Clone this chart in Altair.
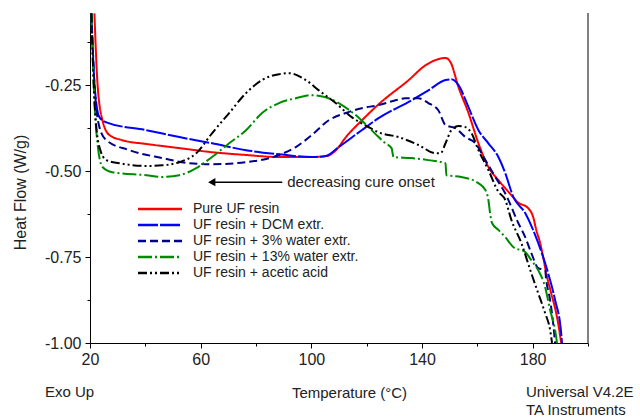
import altair as alt
import pandas as pd

series_names = ["Pure UF resin", "UF resin + DCM extr.", "UF resin + 3% water extr.",
                "UF resin + 13% water extr.", "UF resin + acetic acid"]
series_colors = ["#ff0000", "#0000ff", "#00008b", "#008a00", "#000000"]
series_dash = [[1, 0], [20, 2], [8, 4], [14, 3, 2, 3], [9, 3, 2, 3, 2, 3]]

red_x = [21.6, 22.7, 24.5, 27.0, 31.7, 40.4, 52.3, 64.1, 76.4, 88.3, 100.2, 105.6, 108.9, 112.5,
         118.3, 124.4, 135.2, 141.3, 148.5, 150.3, 153.2, 156.8, 160.4, 164.0, 167.6, 172.3, 174.5,
         178.4, 180.2, 181.3, 182.7, 183.8, 184.9, 186.7, 188.5, 189.2, 190.3]
red_y = [-0.041, -0.244, -0.352, -0.395, -0.410, -0.421, -0.433, -0.445, -0.453, -0.459, -0.459,
         -0.456, -0.439, -0.401, -0.352, -0.305, -0.235, -0.192, -0.171, -0.183, -0.256, -0.331,
         -0.419, -0.488, -0.526, -0.570, -0.590, -0.608, -0.634, -0.671, -0.709, -0.750, -0.797,
         -0.855, -0.913, -0.942, -1.0]

blue_x = [20.5, 21.6, 23.4, 25.9, 40.4, 52.3, 64.1, 76.4, 88.3, 100.2, 105.2, 109.9, 118.2, 124.3,
          136.2, 142.3, 148.5, 150.6, 153.2, 156.8, 160.4, 164.0, 167.6, 170.1, 173.0, 177.3, 182.0,
          185.6, 188.1, 190.3, 190.6]
blue_y = [-0.041, -0.244, -0.343, -0.358, -0.381, -0.401, -0.419, -0.439, -0.451, -0.459, -0.456,
          -0.430, -0.381, -0.346, -0.294, -0.265, -0.235, -0.233, -0.250, -0.314, -0.381, -0.419,
          -0.459, -0.506, -0.575, -0.622, -0.709, -0.797, -0.875, -0.971, -1.0]

navy_x = [20.5, 21.6, 23.4, 25.9, 34.2, 46.1, 55.9, 64.1, 76.4, 88.3, 94.4, 100.2, 106.3, 112.4,
          118.2, 124.3, 130.4, 134.0, 138.7, 142.3, 145.9, 148.5, 152.1, 155.7, 159.3, 162.9, 166.5,
          170.1, 174.8, 177.3, 179.5, 182.0, 184.5, 184.9, 186.3, 187.4, 188.1]
navy_y = [-0.041, -0.244, -0.372, -0.410, -0.439, -0.462, -0.477, -0.480, -0.474, -0.453, -0.430,
          -0.395, -0.352, -0.331, -0.317, -0.308, -0.294, -0.288, -0.288, -0.302, -0.323, -0.366,
          -0.375, -0.401, -0.419, -0.468, -0.517, -0.565, -0.651, -0.692, -0.738, -0.782, -0.788,
          -0.817, -0.875, -0.942, -1.0]

green_x = [20.5, 21.6, 22.7, 24.5, 28.1, 40.4, 46.1, 52.3, 58.4, 64.1, 70.3, 76.4, 82.2, 88.3,
           94.4, 100.2, 105.2, 109.9, 116.0, 120.7, 124.3, 126.8, 129.0, 129.7, 136.2, 142.3, 148.5,
           148.8, 154.2, 160.4, 162.9, 164.0, 164.6, 165.3, 167.6, 170.1, 173.0, 177.3, 179.5, 182.0,
           184.5, 186.3, 188.1, 188.8]
green_y = [-0.041, -0.294, -0.419, -0.488, -0.503, -0.512, -0.517, -0.512, -0.491, -0.459, -0.419,
           -0.381, -0.331, -0.302, -0.288, -0.279, -0.285, -0.302, -0.337, -0.372, -0.401, -0.419,
           -0.433, -0.459, -0.462, -0.468, -0.477, -0.512, -0.517, -0.535, -0.555, -0.584, -0.622,
           -0.651, -0.671, -0.692, -0.721, -0.735, -0.759, -0.788, -0.837, -0.904, -0.962, -1.0]

black_x = [20.5, 21.6, 23.4, 25.9, 30.6, 40.4, 46.1, 52.3, 58.4, 64.1, 70.3, 76.4, 82.2, 88.3,
           91.9, 98.0, 102.7, 108.8, 114.6, 120.7, 124.3, 131.5, 138.7, 144.9, 146.7, 148.5, 150.6,
           153.2, 155.7, 157.9, 160.4, 164.0, 167.6, 170.1, 172.3, 175.9, 179.5, 182.0, 184.5,
           186.3, 187.0]
black_y = [-0.041, -0.294, -0.430, -0.468, -0.477, -0.485, -0.483, -0.474, -0.448, -0.390, -0.331,
           -0.273, -0.235, -0.218, -0.215, -0.235, -0.265, -0.302, -0.343, -0.372, -0.387, -0.401,
           -0.424, -0.448, -0.448, -0.419, -0.381, -0.369, -0.372, -0.390, -0.439, -0.497, -0.560,
           -0.584, -0.642, -0.709, -0.797, -0.855, -0.913, -0.962, -1.0]

arrow_x = [89.5, 65.0]
arrow_y = [-0.532, -0.532]
arrow_head_x = [64.0]
note_x = [91.3]
note_y = [-0.532]
note_text = ["decreasing cure onset"]

all_x = [red_x, blue_x, navy_x, green_x, black_x]
all_y = [red_y, blue_y, navy_y, green_y, black_y]
rows = []
for name, xs, ys in zip(series_names, all_x, all_y):
    for i, (xv, yv) in enumerate(zip(xs, ys)):
        rows.append({"series": name, "T": xv, "HF": yv, "order": i})
df = pd.DataFrame(rows)

FONT = "Liberation Sans"
xscale = alt.Scale(domain=[20, 200], nice=False, zero=False)
yscale = alt.Scale(domain=[-1.0, -0.04], nice=False, zero=False)

x_axis = alt.Axis(
    title="Temperature (°C)", values=list(range(20, 201, 10)),
    labelExpr="datum.value % 40 == 20 ? datum.label : ''",
    tickSize={"condition": {"test": "datum.value % 40 == 20", "value": 5}, "value": 3},
    grid=False, labelFontSize=16, labelPadding=3, labelFlush=False, titleFontSize=15,
    titleFontWeight="normal", titleX=259, titleY=49, titleBaseline="middle", titleAlign="center",
)
y_axis = alt.Axis(
    title="Heat Flow (W/g)", values=[-1.0, -0.875, -0.75, -0.625, -0.5, -0.375, -0.25, -0.125],
    labelExpr="abs(datum.value*4 - round(datum.value*4)) < 0.001 ? '-' + format(abs(datum.value), '.2f') : ''",
    tickSize={"condition": {"test": "abs(datum.value*4 - round(datum.value*4)) < 0.001", "value": 5},
              "value": 3},
    grid=False, labelFontSize=16, labelPadding=4, labelFlush=False, titleFontSize=16,
    titleFontWeight="normal", titleX=-70, titleY=179, titleBaseline="middle", titleAlign="center",
)

lines = alt.Chart(df).mark_line(strokeWidth=2, clip=True, interpolate="monotone").encode(
    x=alt.X("T:Q", scale=xscale, axis=x_axis),
    y=alt.Y("HF:Q", scale=yscale, axis=y_axis),
    color=alt.Color("series:N", scale=alt.Scale(domain=series_names, range=series_colors),
                    sort=series_names, legend=alt.Legend(title=None)),
    strokeDash=alt.StrokeDash("series:N", scale=alt.Scale(domain=series_names, range=series_dash),
                              sort=series_names, legend=alt.Legend(title=None)),
    order="order:Q",
)

arrow_df = pd.DataFrame({"x": arrow_x, "y": arrow_y})
arrow = alt.Chart(arrow_df).mark_line(color="black", strokeWidth=1.5).encode(
    x=alt.X("x:Q", scale=xscale), y=alt.Y("y:Q", scale=yscale))
head = alt.Chart(pd.DataFrame({"x": arrow_head_x, "y": [arrow_y[0]]})).mark_point(
    shape="triangle-left", filled=True, color="black", size=70, opacity=1).encode(
    x=alt.X("x:Q", scale=xscale), y=alt.Y("y:Q", scale=yscale))
note = alt.Chart(pd.DataFrame({"x": note_x, "y": note_y, "t": note_text})).mark_text(
    align="left", baseline="middle", fontSize=15, font=FONT, color="#222").encode(
    x=alt.X("x:Q", scale=xscale), y=alt.Y("y:Q", scale=yscale), text="t:N")

border = alt.Chart(pd.DataFrame({"x": [200]})).mark_rule(color="black", strokeWidth=1).encode(
    x=alt.X("x:Q", scale=xscale), y=alt.datum(-1.0, scale=yscale), y2=alt.datum(-0.04))

corner = pd.DataFrame({"t": ["Exo Up", "Universal V4.2E", "TA Instruments"],
                       "px": [-45, 436, 436], "py": [379, 379, 397]})
corner_text = alt.Chart(corner).mark_text(align="left", baseline="middle", fontSize=15,
                                          font=FONT, color="#222").encode(
    x=alt.X("px:Q", scale=None), y=alt.Y("py:Q", scale=None), text="t:N")

chart = alt.layer(lines, arrow, head, note, border, corner_text).properties(
    width=498, height=330, padding={"left": 90, "top": 13, "right": 52, "bottom": 75},
    autosize=alt.AutoSizeParams(type="none"),
).configure_view(stroke=None).configure_axis(
    domainColor="black", tickColor="black", labelColor="#222", titleColor="#222",
    labelFont=FONT, titleFont=FONT,
).configure_legend(
    orient="none", legendX=63, legendY=189, padding=0, labelFont=FONT, labelFontSize=14,
    labelColor="#222", symbolType="M-4.4,0L4.4,0", symbolSize=100, symbolStrokeWidth=2.5,
    rowPadding=2, labelOffset=26, labelLimit=400,
)

chart.save("out.html", embed_options={"renderer": "svg", "actions": False})
